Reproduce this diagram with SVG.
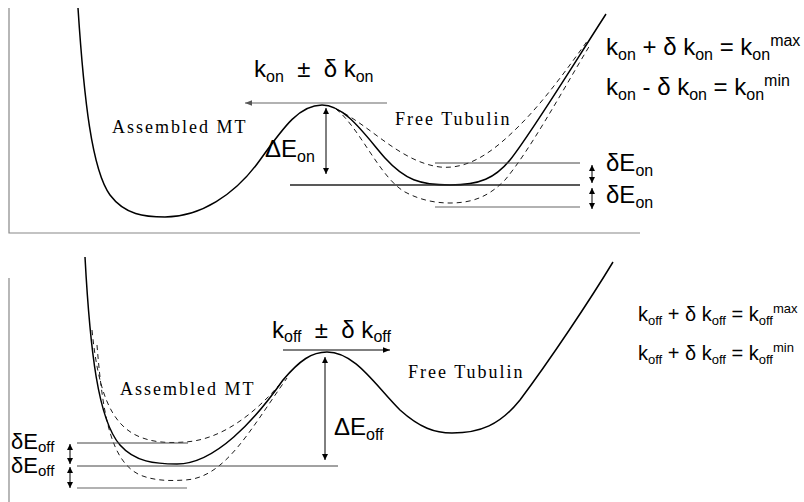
<svg xmlns="http://www.w3.org/2000/svg" width="804" height="502" viewBox="0 0 804 502">
<defs>
<marker id="ah" viewBox="0 0 10 10" refX="10" refY="5" markerWidth="10" markerHeight="7" markerUnits="userSpaceOnUse" orient="auto-start-reverse"><path d="M0,1 L10,5 L0,9 Z" fill="#000"/></marker>
<marker id="ahg" viewBox="0 0 10 10" refX="10" refY="5" markerWidth="12" markerHeight="7" markerUnits="userSpaceOnUse" orient="auto-start-reverse"><path d="M0,1 L10,5 L0,9 Z" fill="#555"/></marker>
<marker id="as" viewBox="0 0 10 10" refX="10" refY="5" markerWidth="7" markerHeight="6" markerUnits="userSpaceOnUse" orient="auto-start-reverse"><path d="M0,0 L10,5 L0,10 Z" fill="#000"/></marker>
</defs>
<style>
.curve{fill:none;stroke:#000;stroke-width:1.5}
.dash{fill:none;stroke:#000;stroke-width:0.9;stroke-dasharray:5,4}
.axis{fill:none;stroke:#888;stroke-width:1.2}
.lvl{fill:none;stroke:#444;stroke-width:1}
.lvlg{fill:none;stroke:#999;stroke-width:1.5}
.base{fill:none;stroke:#222;stroke-width:1.6}
.arr{fill:none;stroke:#000;stroke-width:1}
.m{font-family:"Liberation Sans",Arial,sans-serif;font-size:24px;fill:#000}
.m2{font-family:"Liberation Sans",Arial,sans-serif;font-size:20px;fill:#000}
.m3{font-family:"Liberation Sans",Arial,sans-serif;font-size:22px;fill:#000}
.s{font-size:16px}
.s2{font-size:13px}
.s3{font-size:15px}
.lbl{font-family:"Liberation Serif","Times New Roman",serif;font-size:18px;letter-spacing:2px;fill:#000}
</style>

<g id="top-panel">
<g id="top-axes">
<path class="axis" d="M9,8 V233 H640"/>
</g>
<g id="top-curves">
<path class="curve" d="M78,8 C84,100 92,170 110,195 C125,215 145,217 165,217 C200,217 235,195 260,160 C285,125 300,105 322,105 C345,105 365,135 385,158 C405,180 420,185 450,185 C480,185 495,178 510,160 C530,135 570,70 606,14"/>
<path class="dash" d="M336,109 C370,125 400,162 440,167 C470,170 495,150 520,125 C545,100 570,65 588,40"/>
<path class="dash" d="M336,109 C360,128 380,178 405,192 C420,200 435,203 450,203 C475,203 490,195 505,180 C530,150 560,95 590,45"/>
</g>
<g id="top-levels">
<path class="base" d="M290,185 H580"/>
<path class="lvl" d="M435,163 H580"/>
<path class="lvlg" d="M435,207 H580"/>
</g>
<g id="top-arrows">
<line class="lvlg" x1="387" y1="103" x2="245" y2="103" marker-end="url(#ahg)"/>
<line class="arr" x1="326" y1="108" x2="326" y2="174" marker-start="url(#as)" marker-end="url(#as)"/>
<line class="arr" x1="592" y1="165" x2="592" y2="183" marker-start="url(#as)" marker-end="url(#as)"/>
<line class="arr" x1="592" y1="188" x2="592" y2="209" marker-start="url(#as)" marker-end="url(#as)"/>
</g>
<g id="top-labels">
<text class="m" x="254" y="77">k<tspan class="s" dy="5">on</tspan><tspan dy="-5" xml:space="preserve">  ±  δ k</tspan><tspan class="s" dy="5">on</tspan></text>
<text class="lbl" x="112" y="133">Assembled MT</text>
<text class="lbl" x="395" y="125">Free Tubulin</text>
<text class="m" x="265" y="157">ΔE<tspan class="s" dy="5">on</tspan></text>
<text class="m" x="606" y="171">δE<tspan class="s" dy="5">on</tspan></text>
<text class="m" x="606" y="203">δE<tspan class="s" dy="5">on</tspan></text>
<text class="m" x="606" y="55">k<tspan class="s" dy="5">on</tspan><tspan dy="-5"> + δ k</tspan><tspan class="s" dy="5">on</tspan><tspan dy="-5"> = k</tspan><tspan class="s" dy="5">on</tspan><tspan class="s" dy="-14">max</tspan></text>
<text class="m" x="606" y="95">k<tspan class="s" dy="5">on</tspan><tspan dy="-5"> - δ k</tspan><tspan class="s" dy="5">on</tspan><tspan dy="-5"> = k</tspan><tspan class="s" dy="5">on</tspan><tspan class="s" dy="-14">min</tspan></text>
</g>
</g>

<g id="bottom-panel">
<g id="bottom-axes">
<path class="axis" d="M9,278 V502"/>
</g>
<g id="bottom-curves">
<path class="curve" d="M85,257 C90,350 98,420 120,445 C135,462 155,464 177,464 C215,464 255,420 283,380 C300,360 312,352 327,352 C355,352 375,385 400,410 C420,428 435,433 452,433 C480,433 500,425 520,400 C550,360 590,300 613,262"/>
<path class="dash" d="M92,330 C98,390 110,425 140,437 C155,443 170,443 185,442 C220,440 255,415 285,378"/>
<path class="dash" d="M97,345 C103,420 112,462 140,475 C155,481 170,481 185,480 C225,478 250,430 287,378"/>
</g>
<g id="bottom-levels">
<path class="lvl" d="M77,443 H188"/>
<path class="lvl" d="M77,466 H338"/>
<path class="lvlg" d="M77,488 H187"/>
</g>
<g id="bottom-arrows">
<line class="arr" x1="283" y1="350" x2="390" y2="350" marker-end="url(#ah)"/>
<line class="arr" x1="325" y1="357" x2="325" y2="460" marker-start="url(#as)" marker-end="url(#as)"/>
<line class="arr" x1="70" y1="444" x2="70" y2="464" marker-start="url(#as)" marker-end="url(#as)"/>
<line class="arr" x1="70" y1="467" x2="70" y2="488" marker-start="url(#as)" marker-end="url(#as)"/>
</g>
<g id="bottom-labels">
<text class="m" x="272" y="338">k<tspan class="s" dy="4">off</tspan><tspan dy="-4" xml:space="preserve">  ±  δ k</tspan><tspan class="s" dy="4">off</tspan></text>
<text class="lbl" x="120" y="395">Assembled MT</text>
<text class="lbl" x="408" y="378">Free Tubulin</text>
<text class="m" x="334" y="435">ΔE<tspan class="s" dy="5">off</tspan></text>
<text class="m3" x="11" y="449">δE<tspan class="s3" dy="3">off</tspan></text>
<text class="m3" x="11" y="473">δE<tspan class="s3" dy="3">off</tspan></text>
<text class="m2" x="638" y="321">k<tspan class="s2" dy="4">off</tspan><tspan dy="-4"> + δ k</tspan><tspan class="s2" dy="4">off</tspan><tspan dy="-4"> = k</tspan><tspan class="s2" dy="4">off</tspan><tspan class="s2" dy="-12">max</tspan></text>
<text class="m2" x="638" y="360">k<tspan class="s2" dy="4">off</tspan><tspan dy="-4"> + δ k</tspan><tspan class="s2" dy="4">off</tspan><tspan dy="-4"> = k</tspan><tspan class="s2" dy="4">off</tspan><tspan class="s2" dy="-12">min</tspan></text>
</g>
</g>
</svg>
